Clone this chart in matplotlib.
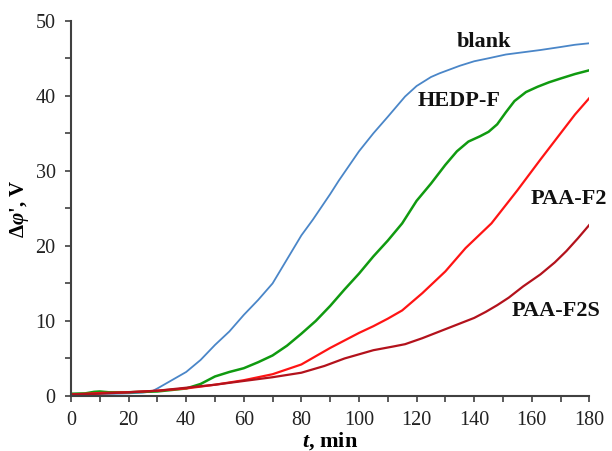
import matplotlib
matplotlib.use('Agg')
import matplotlib.pyplot as plt
from matplotlib.ticker import MultipleLocator

# values
t_blank = [0, 5, 10, 15, 20, 25, 28, 30, 35, 40, 45, 50, 55, 60, 65, 70, 75, 80, 84, 90,
           93, 100, 105, 110, 116, 120, 125, 128, 135, 140, 145, 151, 157, 163, 170, 175, 180]
v_blank = [0.2, 0.25, 0.3, 0.3, 0.35, 0.45, 0.6, 1.0, 2.1, 3.2, 4.8, 6.8, 8.6, 10.8, 12.8, 15.0,
           18.2, 21.4, 23.5, 26.9, 28.7, 32.6, 35.0, 37.2, 39.9, 41.3, 42.5, 43.0, 44.0, 44.6,
           45.0, 45.5, 45.8, 46.1, 46.5, 46.8, 47.0]

t_hedp = [0, 5, 8, 10, 13, 20, 30, 35, 40, 45, 50, 55, 60, 65, 70, 75, 80, 85, 90, 95, 100,
          105, 110, 115, 120, 125, 130, 134, 138, 142, 145, 148, 151, 154, 158, 162, 166, 170,
          175, 180]
v_hedp = [0.3, 0.35, 0.55, 0.6, 0.5, 0.5, 0.6, 0.8, 1.0, 1.6, 2.6, 3.2, 3.7, 4.5, 5.4, 6.7,
          8.3, 10.0, 12.0, 14.2, 16.3, 18.6, 20.7, 23.0, 26.0, 28.3, 30.8, 32.6, 33.9, 34.6,
          35.2, 36.2, 37.8, 39.3, 40.5, 41.2, 41.8, 42.3, 42.9, 43.4]

t_f2 = [0, 10, 20, 30, 40, 50, 60, 70, 80, 90, 100, 105, 110, 115, 122, 130, 137, 146, 155,
        163, 170, 175, 180]
v_f2 = [0.2, 0.4, 0.5, 0.7, 1.0, 1.5, 2.1, 2.9, 4.2, 6.4, 8.4, 9.3, 10.3, 11.4, 13.7, 16.6,
        19.7, 23.0, 27.4, 31.5, 35.0, 37.5, 39.7]

t_f2s = [0, 10, 20, 30, 40, 50, 60, 70, 80, 88, 95, 105, 112, 116, 122, 128, 134, 140, 144,
         148, 152, 157, 163, 168, 172, 176, 180]
v_f2s = [0.2, 0.3, 0.5, 0.7, 1.1, 1.5, 2.0, 2.5, 3.1, 4.0, 5.0, 6.1, 6.6, 6.9, 7.7, 8.6, 9.5,
         10.4, 11.2, 12.1, 13.1, 14.6, 16.2, 17.8, 19.3, 21.0, 22.8]

plt.rcParams['font.family'] = ['Liberation Serif', 'DejaVu Serif']
plt.rcParams['mathtext.fontset'] = 'custom'
plt.rcParams['mathtext.it'] = 'Liberation Serif:italic:bold'
plt.rcParams['mathtext.rm'] = 'Liberation Serif:bold'

fig = plt.figure(figsize=(6.12, 4.51), dpi=100)
ax = fig.add_axes([0.116, 0.122, 0.847, 0.832])

ax.plot(t_blank, v_blank, color='#4a86c8', lw=1.3)
ax.plot(t_hedp, v_hedp, color='#109a10', lw=1.8)
ax.plot(t_f2, v_f2, color='#ff1414', lw=1.6)
ax.plot(t_f2s, v_f2s, color='#b3121c', lw=1.6)

lbl = dict(fontsize=16, fontweight='bold', ha='center', va='center', color='#111111')
ax.text(143.3, 47.2, 'blank', **lbl)
ax.text(134.6, 39.3, 'HEDP-F', **lbl)
ax.text(173, 26.3, 'PAA-F2', **lbl)
ax.text(168.3, 11.3, 'PAA-F2S', **lbl)

ax.set_xlim(0, 180)
ax.set_ylim(0, 50)
ax.xaxis.set_major_locator(MultipleLocator(20))
ax.xaxis.set_minor_locator(MultipleLocator(10))
ax.yaxis.set_major_locator(MultipleLocator(10))
ax.yaxis.set_minor_locator(MultipleLocator(5))
ax.tick_params(which='both', direction='out', length=4, width=1.2, color='#404040',
               labelsize=14.5, labelcolor='#222222')
ax.tick_params(axis='x', pad=7)
ax.tick_params(axis='y', pad=7)
for s in ['top', 'right']:
    ax.spines[s].set_visible(False)
for s in ['left', 'bottom']:
    ax.spines[s].set_color('#404040')
    ax.spines[s].set_linewidth(1.5)

ax.set_xlabel(r'$\mathit{t}$, min', fontsize=16, fontweight='bold', labelpad=0)
ax.set_ylabel(r"$\mathit{\Delta\varphi}$', V", fontsize=15, fontweight='bold', labelpad=3)

fig.savefig('out.png', dpi=100)
